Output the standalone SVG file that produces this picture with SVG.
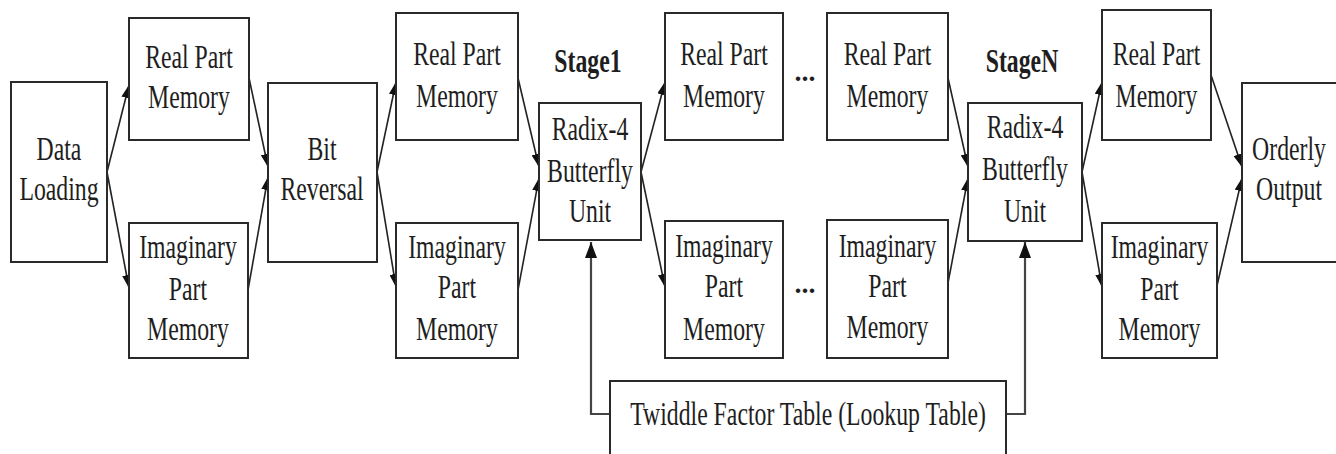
<svg xmlns="http://www.w3.org/2000/svg" width="1336" height="454" viewBox="0 0 1336 454">
<defs>
<style>
.box{fill:#fff;stroke:#2a2a2a;stroke-width:2}
.t{font-family:"Liberation Serif","Times New Roman",serif;font-size:33px;fill:#1e1e1e;text-anchor:middle}
.b{font-weight:bold}
.c{fill:none;stroke:#222;stroke-width:1.6}
.tw{fill:none;stroke:#444;stroke-width:2.2}
</style>
<marker id="ah" markerUnits="userSpaceOnUse" markerWidth="14" markerHeight="9" refX="13" refY="4.5" orient="auto">
<path d="M0,0 L13,4.5 L0,9 z" fill="#111"/>
</marker>
<marker id="ahv" markerUnits="userSpaceOnUse" markerWidth="17" markerHeight="12" refX="16" refY="6" orient="auto">
<path d="M0,0 L16,6 L0,12 z" fill="#111"/>
</marker>
</defs>
<rect width="1336" height="454" fill="#fff"/>

<g id="connectors">
<line class="c" x1="107" y1="172" x2="129" y2="85" marker-end="url(#ah)"/>
<line class="c" x1="107" y1="172" x2="129" y2="288" marker-end="url(#ah)"/>
<line class="c" x1="249" y1="78" x2="268" y2="167" marker-end="url(#ah)"/>
<line class="c" x1="248" y1="290" x2="268" y2="177" marker-end="url(#ah)"/>
<line class="c" x1="377" y1="172" x2="396" y2="82" marker-end="url(#ah)"/>
<line class="c" x1="377" y1="172" x2="396" y2="287" marker-end="url(#ah)"/>
<line class="c" x1="518" y1="78" x2="539" y2="167" marker-end="url(#ah)"/>
<line class="c" x1="518" y1="290" x2="539" y2="178" marker-end="url(#ah)"/>
<line class="c" x1="641" y1="172" x2="665" y2="82" marker-end="url(#ah)"/>
<line class="c" x1="641" y1="172" x2="665" y2="287" marker-end="url(#ah)"/>
<line class="c" x1="948" y1="78" x2="968" y2="167" marker-end="url(#ah)"/>
<line class="c" x1="948" y1="283" x2="968" y2="178" marker-end="url(#ah)"/>
<line class="c" x1="1082" y1="172" x2="1102" y2="82" marker-end="url(#ah)"/>
<line class="c" x1="1082" y1="172" x2="1102" y2="287" marker-end="url(#ah)"/>
<line class="c" x1="1211" y1="75" x2="1242" y2="167" marker-end="url(#ah)"/>
<line class="c" x1="1216" y1="290" x2="1242" y2="178" marker-end="url(#ah)"/>
<path class="tw" d="M610,414 H591 V242" marker-end="url(#ahv)"/>
<path class="tw" d="M1006,414 H1025 V242" marker-end="url(#ahv)"/>
</g>

<g id="data-loading">
<rect class="box" x="11" y="82" width="96" height="180"/>
<g transform="translate(59 0) scale(0.72 1)"><text class="t" x="0" y="160">Data</text><text class="t" x="0" y="200">Loading</text></g>
</g>
<g id="real1">
<rect class="box" x="129" y="18" width="120" height="122"/>
<g transform="translate(189 0) scale(0.72 1)"><text class="t" x="0" y="68">Real Part</text><text class="t" x="0" y="108">Memory</text></g>
</g>
<g id="imag1">
<rect class="box" x="129" y="223" width="119" height="135"/>
<g transform="translate(188 0) scale(0.72 1)"><text class="t" x="0" y="258">Imaginary</text><text class="t" x="0" y="300">Part</text><text class="t" x="0" y="340">Memory</text></g>
</g>
<g id="bit-reversal">
<rect class="box" x="268" y="83" width="109" height="179"/>
<g transform="translate(322 0) scale(0.72 1)"><text class="t" x="0" y="160">Bit</text><text class="t" x="0" y="200">Reversal</text></g>
</g>
<g id="real2">
<rect class="box" x="396" y="13" width="122" height="127"/>
<g transform="translate(457 0) scale(0.72 1)"><text class="t" x="0" y="65">Real Part</text><text class="t" x="0" y="107">Memory</text></g>
</g>
<g id="imag2">
<rect class="box" x="396" y="223" width="122" height="135"/>
<g transform="translate(457 0) scale(0.72 1)"><text class="t" x="0" y="258">Imaginary</text><text class="t" x="0" y="298">Part</text><text class="t" x="0" y="340">Memory</text></g>
</g>
<g id="stage1-label">
<g transform="translate(588 0) scale(0.72 1)"><text class="t b" x="0" y="72">Stage1</text></g>
</g>
<g id="radix1">
<rect class="box" x="539" y="103" width="102" height="137"/>
<g transform="translate(590 0) scale(0.72 1)"><text class="t" x="0" y="140">Radix-4</text><text class="t" x="0" y="182">Butterfly</text><text class="t" x="0" y="222">Unit</text></g>
</g>
<g id="real3">
<rect class="box" x="665" y="13" width="118" height="127"/>
<g transform="translate(724 0) scale(0.72 1)"><text class="t" x="0" y="65">Real Part</text><text class="t" x="0" y="107">Memory</text></g>
</g>
<g id="imag3">
<rect class="box" x="665" y="221" width="118" height="137"/>
<g transform="translate(724 0) scale(0.72 1)"><text class="t" x="0" y="257">Imaginary</text><text class="t" x="0" y="297">Part</text><text class="t" x="0" y="340">Memory</text></g>
</g>
<g id="ellipsis-top"><text class="t b" style="font-size:28px" x="805" y="81">...</text></g>
<g id="ellipsis-bottom"><text class="t b" style="font-size:28px" x="805" y="293">...</text></g>
<g id="real4">
<rect class="box" x="827" y="13" width="121" height="127"/>
<g transform="translate(887.5 0) scale(0.72 1)"><text class="t" x="0" y="65">Real Part</text><text class="t" x="0" y="107">Memory</text></g>
</g>
<g id="imag4">
<rect class="box" x="827" y="220" width="121" height="138"/>
<g transform="translate(887.5 0) scale(0.72 1)"><text class="t" x="0" y="257">Imaginary</text><text class="t" x="0" y="297">Part</text><text class="t" x="0" y="338">Memory</text></g>
</g>
<g id="stageN-label">
<g transform="translate(1022 0) scale(0.72 1)"><text class="t b" x="0" y="72">StageN</text></g>
</g>
<g id="radixN">
<rect class="box" x="968" y="103" width="114" height="138"/>
<g transform="translate(1025 0) scale(0.72 1)"><text class="t" x="0" y="138">Radix-4</text><text class="t" x="0" y="180">Butterfly</text><text class="t" x="0" y="222">Unit</text></g>
</g>
<g id="real5">
<rect class="box" x="1102" y="10" width="109" height="130"/>
<g transform="translate(1156.5 0) scale(0.72 1)"><text class="t" x="0" y="65">Real Part</text><text class="t" x="0" y="107">Memory</text></g>
</g>
<g id="imag5">
<rect class="box" x="1102" y="223" width="115" height="135"/>
<g transform="translate(1159.5 0) scale(0.72 1)"><text class="t" x="0" y="258">Imaginary</text><text class="t" x="0" y="300">Part</text><text class="t" x="0" y="340">Memory</text></g>
</g>
<g id="orderly-output">
<rect class="box" x="1242" y="83" width="110" height="179"/>
<g transform="translate(1289 0) scale(0.72 1)"><text class="t" x="0" y="160">Orderly</text><text class="t" x="0" y="200">Output</text></g>
</g>
<g id="twiddle">
<rect class="box" x="610" y="381" width="396" height="90"/>
<g transform="translate(808 0) scale(0.72 1)"><text class="t" x="0" y="425">Twiddle Factor Table (Lookup Table)</text></g>
</g>
</svg>
